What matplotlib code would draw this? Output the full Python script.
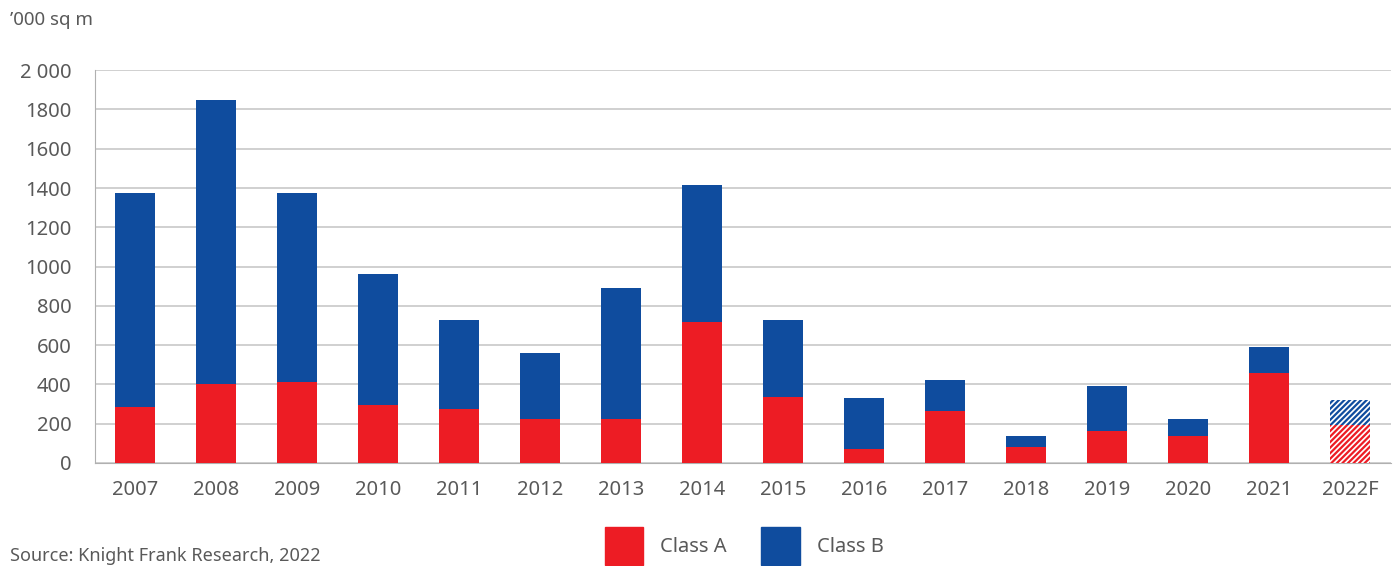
import matplotlib.pyplot as plt
from matplotlib.patches import Patch

years = ["2007", "2008", "2009", "2010", "2011", "2012", "2013", "2014",
         "2015", "2016", "2017", "2018", "2019", "2020", "2021", "2022F"]
class_a = [285, 400, 410, 295, 275, 225, 225, 720, 335, 70, 265, 80, 165, 135, 460, 195]
total = [1375, 1850, 1375, 960, 730, 560, 890, 1415, 730, 330, 420, 135, 390, 225, 590, 320]
class_b = [t - a for t, a in zip(total, class_a)]

RED = "#ED1C24"
BLUE = "#0F4C9E"
GREY = "#595959"

plt.rcParams['font.family'] = ['Noto Sans', 'DejaVu Sans']
plt.rcParams['hatch.linewidth'] = 1.6

fig = plt.figure(figsize=(13.99, 5.66), dpi=100)
ax = fig.add_axes([0.068, 0.182, 0.926, 0.694])

x = list(range(len(years)))
w = 0.49
n = len(years) - 1
ax.bar(x[:n], class_a[:n], width=w, color=RED, zorder=3)
ax.bar(x[:n], class_b[:n], width=w, bottom=class_a[:n], color=BLUE, zorder=3)
# forecast year, hatched
ax.bar(x[n], class_a[n], width=w, facecolor="white", edgecolor=RED, hatch="//////", linewidth=0, zorder=3)
ax.bar(x[n], class_b[n], width=w, bottom=class_a[n], facecolor="white", edgecolor=BLUE, hatch="//////", linewidth=0, zorder=3)

ax.set_ylim(0, 2000)
ax.set_xlim(-0.49, 15.5)
ticks = list(range(0, 2001, 200))
ax.set_yticks(ticks)
ax.set_yticklabels([str(t) if t < 2000 else "2 000" for t in ticks])
ax.set_xticks(x)
ax.set_xticklabels(years)
ax.tick_params(axis="both", length=0, labelsize=14.5, colors=GREY)
ax.tick_params(axis="y", pad=17)
ax.tick_params(axis="x", pad=12)
ax.grid(axis="y", color="#c8c8c8", linewidth=1.2, zorder=0)
for s in ["top", "right"]:
    ax.spines[s].set_visible(False)
ax.spines["left"].set_color("#b0b0b0")
ax.spines["bottom"].set_color("#b0b0b0")

fig.text(0.007, 0.965, "\u2019000 sq m", fontsize=13.5, color=GREY, va="center")
fig.text(0.007, 0.017, "Source: Knight Frank Research, 2022", fontsize=13, color=GREY, va="center")

handles = [Patch(color=RED, label="Class A"), Patch(color=BLUE, label="Class B")]
fig.legend(handles=handles, loc="center", bbox_to_anchor=(0.532, 0.035), ncol=2, frameon=False,
           fontsize=14.5, labelcolor=GREY, handlelength=1.9, handleheight=2.5,
           handletextpad=0.85, columnspacing=1.7)

fig.savefig("out.png", dpi=100)
